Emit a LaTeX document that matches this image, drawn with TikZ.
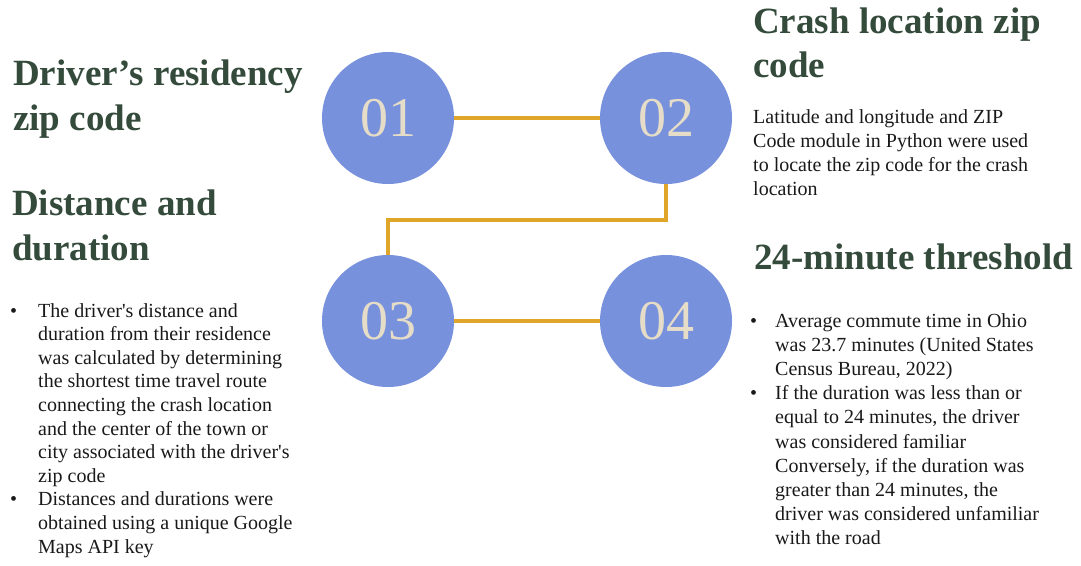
\documentclass[tikz,border=0pt]{standalone}
\usepackage{fontspec}
\setmainfont{Liberation Serif}

\definecolor{stepblue}{HTML}{7891DC}
\definecolor{numbeige}{HTML}{E6DDC8}
\definecolor{linkgold}{HTML}{DFA62A}
\definecolor{headgreen}{HTML}{344A3B}

\tikzset{
  stepdot/.style={circle, fill=stepblue, minimum size=132pt, inner sep=0pt,
    text=numbeige, font=\fontsize{56}{56}\selectfont},
  link/.style={draw=linkgold, line width=3.6pt},
  head/.style={anchor=base west, inner sep=0pt, text=headgreen,
    font=\fontsize{37}{45}\selectfont\bfseries},
  body/.style={anchor=base west, inner sep=0pt, text=black!90,
    font=\fontsize{20}{24}\selectfont},
}

\begin{document}
\begin{tikzpicture}[x=1pt, y=-1pt]
    \useasboundingbox (0,0) rectangle (1081,565);

    % the four steps
    \node[stepdot] (s1) at (388,118) {01};
    \node[stepdot] (s2) at (666,118) {02};
    \node[stepdot] (s3) at (388,321) {03};
    \node[stepdot] (s4) at (666,321) {04};

    \draw[link] (s1) -- (s2);
    \draw[link] (s2.south) -- ++(0,36) -| (s3.north);
    \draw[link] (s3) -- (s4);

    % headings
    \foreach \t [count=\i from 0] in {{Driver’s residency}, {zip code}}
        \node[head] (h1-\i) at (13, 85+45*\i) {\t};
    \foreach \t [count=\i from 0] in {{Distance and}, {duration}}
        \node[head] (h3-\i) at (12, 215+45*\i) {\t};
    \foreach \t [count=\i from 0] in {{Crash location zip}, {code}}
        \node[head] (h2-\i) at (753, 33+44*\i) {\t};
    \node[head] (h4-0) at (754, 269) {24-minute threshold};

    % text of step 02
    \foreach \t [count=\i from 0] in {
        {Latitude and longitude and ZIP},
        {Code module in Python were used},
        {to locate the zip code for the crash},
        {location}}
        \node[body] (b2-\i) at (753, 123+24*\i) {\t};

    % text of step 03
    \node[body] (d3-0) at (10, 317) {•};
    \node[body] (d3-1) at (10, 317+23.6*8) {•};
    \foreach \t [count=\i from 0] in {
        {The driver\textquotesingle s distance and},
        {duration from their residence},
        {was calculated by determining},
        {the shortest time travel route},
        {connecting the crash location},
        {and the center of the town or},
        {city associated with the driver\textquotesingle s},
        {zip code},
        {Distances and durations were},
        {obtained using a unique Google},
        {Maps API key}}
        \node[body] (b3-\i) at (38, 317+23.6*\i) {\t};

    % text of step 04
    \node[body] (d4-0) at (750, 327) {•};
    \node[body] (d4-1) at (750, 327+24.2*3) {•};
    \foreach \t [count=\i from 0] in {
        {Average commute time in Ohio},
        {was 23.7 minutes (United States},
        {Census Bureau, 2022)},
        {If the duration was less than or},
        {equal to 24 minutes, the driver},
        {was considered familiar},
        {Conversely, if the duration was},
        {greater than 24 minutes, the},
        {driver was considered unfamiliar},
        {with the road}}
        \node[body] (b4-\i) at (775, 327+24.2*\i) {\t};

\end{tikzpicture}
\end{document}
